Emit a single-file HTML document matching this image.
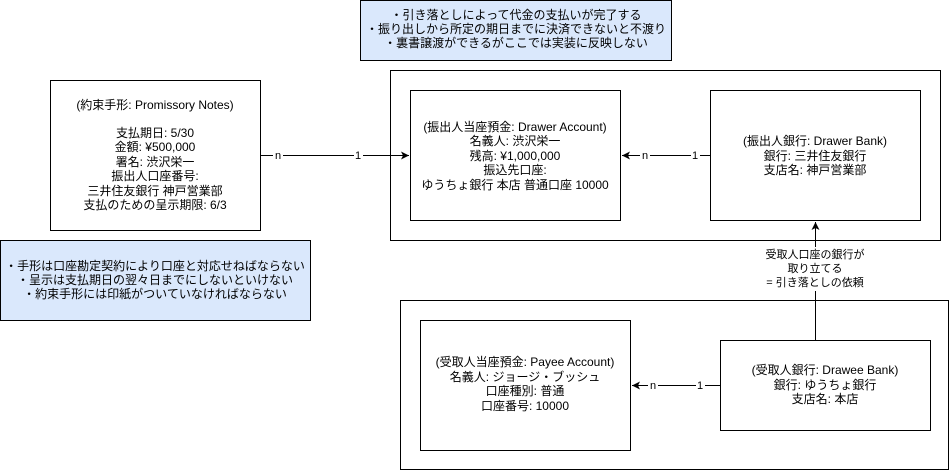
<!DOCTYPE html>
<html><head><meta charset="utf-8"><style>
html,body{margin:0;padding:0;background:#fff;}
svg text{font-family:"Liberation Sans","Noto Sans CJK JP",sans-serif;font-size:12px;fill:#000;}
.s{font-size:11px;}
</style></head><body>
<svg width="951" height="471" viewBox="0 0 951 471" xmlns="http://www.w3.org/2000/svg">
<defs><marker id="a" markerWidth="10" markerHeight="10" refX="8" refY="4" orient="auto" markerUnits="userSpaceOnUse"><path d="M0,0 L8,4 L0,8 L2,4 z" fill="#000"/></marker></defs>
<g fill="none" stroke="#000" stroke-width="1">
<rect x="360.5" y="0.5" width="311" height="60" fill="#dae8fc"/>
<rect x="50.5" y="80.5" width="210" height="150" fill="#fff"/>
<rect x="0.5" y="240.5" width="310" height="80" fill="#dae8fc"/>
<rect x="390.5" y="70.5" width="550" height="170"/>
<rect x="410.5" y="90.5" width="210" height="130"/>
<rect x="710.5" y="90.5" width="210" height="130"/>
<rect x="400.5" y="300.5" width="548" height="169"/>
<rect x="420.5" y="320.5" width="210" height="130"/>
<rect x="720.5" y="340.5" width="210" height="90"/>
<line x1="260" y1="155.5" x2="409" y2="155.5" marker-end="url(#a)"/>
<line x1="710" y1="155.5" x2="622" y2="155.5" marker-end="url(#a)"/>
<line x1="720" y1="385.5" x2="632" y2="385.5" marker-end="url(#a)"/>
<line x1="815.5" y1="340" x2="815.5" y2="222" marker-end="url(#a)"/>
</g>
<g fill="#fff">
<rect x="273" y="149" width="10" height="12"/><rect x="354" y="149" width="9" height="12"/>
<rect x="640" y="149" width="10" height="12"/><rect x="691" y="149" width="9" height="12"/>
<rect x="648" y="379" width="10" height="12"/><rect x="696" y="379" width="9" height="12"/>
<rect x="762" y="247" width="107" height="44"/>
</g>
<g text-anchor="middle">
<text class="s" x="278" y="159">n</text><text class="s" x="358" y="159">1</text>
<text class="s" x="645" y="159">n</text><text class="s" x="695" y="159">1</text>
<text class="s" x="653" y="389">n</text><text class="s" x="700" y="389">1</text>
<text class="s" x="815" y="258">受取人口座の銀行が</text>
<text class="s" x="815" y="272">取り立てる</text>
<text class="s" x="815" y="286">= 引き落としの依頼</text>

<text x="516" y="19">・引き落としによって代金の支払いが完了する</text>
<text x="516" y="33">・振り出しから所定の期日までに決済できないと不渡り</text>
<text x="516" y="47">・裏書譲渡ができるがここでは実装に反映しない</text>

<text x="155" y="109">(約束手形: Promissory Notes)</text>
<text x="155" y="137">支払期日: 5/30</text>
<text x="155" y="151">金額: ¥500,000</text>
<text x="155" y="166">署名: 渋沢栄一</text>
<text x="155" y="180">振出人口座番号:</text>
<text x="155" y="195">三井住友銀行 神戸営業部</text>
<text x="155" y="209">支払のための呈示期限: 6/3</text>

<text x="155" y="270">・手形は口座勘定契約により口座と対応せねばならない</text>
<text x="155" y="284">・呈示は支払期日の翌々日までにしないといけない</text>
<text x="155" y="298">・約束手形には印紙がついていなければならない</text>

<text x="515" y="131">(振出人当座預金: Drawer Account)</text>
<text x="515" y="145">名義人: 渋沢栄一</text>
<text x="515" y="160">残高: ¥1,000,000</text>
<text x="515" y="174">振込先口座:</text>
<text x="515" y="189">ゆうちょ銀行 本店 普通口座 10000</text>

<text x="815" y="145">(振出人銀行: Drawer Bank)</text>
<text x="815" y="160">銀行: 三井住友銀行</text>
<text x="815" y="174">支店名: 神戸営業部</text>

<text x="525" y="366">(受取人当座預金: Payee Account)</text>
<text x="525" y="381">名義人: ジョージ・ブッシュ</text>
<text x="525" y="395">口座種別: 普通</text>
<text x="525" y="410">口座番号: 10000</text>

<text x="825" y="374">(受取人銀行: Drawee Bank)</text>
<text x="825" y="389">銀行: ゆうちょ銀行</text>
<text x="825" y="403">支店名: 本店</text>
</g>
</svg>
</body></html>
